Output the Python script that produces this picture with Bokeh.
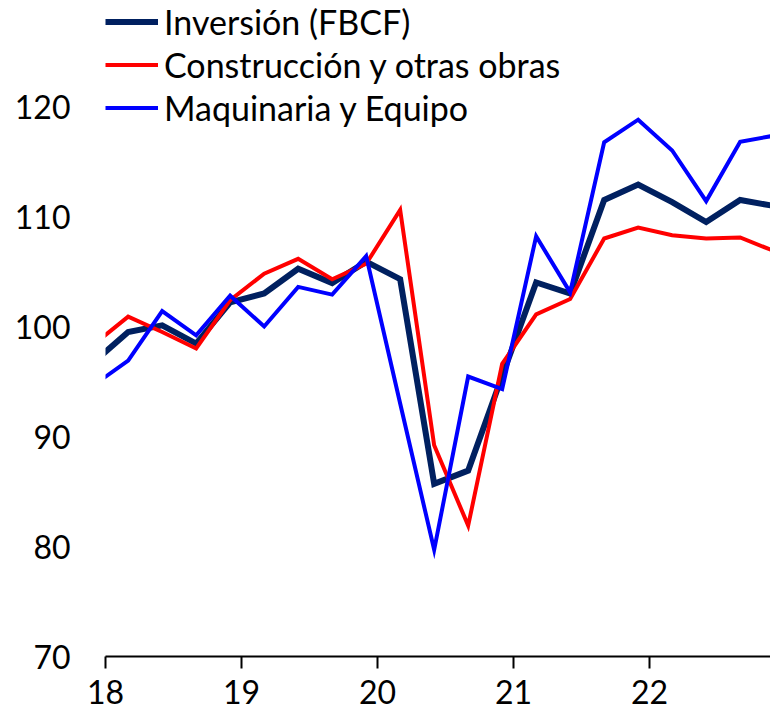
from bokeh.plotting import figure
from bokeh.models import FixedTicker, Range1d, Legend, LegendItem, ColumnDataSource
from bokeh.embed import file_html
from bokeh.resources import INLINE

# Quarterly data, 2017T4 .. 2022T4
years = [2017, 2018, 2018, 2018, 2018, 2019, 2019, 2019, 2019, 2020, 2020, 2020, 2020,
         2021, 2021, 2021, 2021, 2022, 2022, 2022, 2022]
quarters = [4, 1, 2, 3, 4, 1, 2, 3, 4, 1, 2, 3, 4, 1, 2, 3, 4, 1, 2, 3, 4]

inversion = [96.8, 99.5, 100.1, 98.45, 102.2, 103.0, 105.25, 103.95, 105.9, 104.3, 85.7, 86.9,
             95.5, 104.0, 103.0, 111.5, 112.9, 111.3, 109.5, 111.5, 110.95]
construccion = [98.4, 100.9, 99.5, 98.0, 102.4, 104.8, 106.15, 104.3, 105.7, 110.6, 89.2, 81.9,
                96.6, 101.1, 102.5, 108.0, 109.0, 108.3, 108.0, 108.1, 106.85]
maquinaria = [94.7, 96.9, 101.4, 99.2, 102.8, 100.0, 103.6, 102.9, 106.4, 93.0, 79.7, 95.45,
              94.3, 108.2, 103.1, 116.75, 118.8, 116.0, 111.4, 116.8, 117.35]

x_ticks = [18, 19, 20, 21, 22]
x_tick_labels = {18: "18", 19: "19", 20: "20", 21: "21", 22: "22"}
y_ticks = [70, 80, 90, 100, 110, 120]

series_names = ["Inversión (FBCF)", "Construcción y otras obras", "Maquinaria y Equipo"]

# position: year (2-digit) + first day of the last month in the quarter
xs = [(y - 2000) + (3 * q - 1) / 12 for y, q in zip(years, quarters)]
src = ColumnDataSource(dict(x=xs, inv=inversion, con=construccion, maq=maquinaria))

FONT = "Lato"
W, H = 770, 718
LEFT = 105
BOTTOM = 62
FRAME_H = H - BOTTOM
PX_PER_UNIT = 11.0
PX_PER_YEAR = 136.0
ROW = 43

p = figure(width=W, height=H, output_backend="svg", toolbar_location=None,
           x_range=Range1d(18, 18 + (W - LEFT) / PX_PER_YEAR),
           y_range=Range1d(70, 70 + FRAME_H / PX_PER_UNIT),
           min_border_left=LEFT, min_border_right=0, min_border_top=0, min_border_bottom=BOTTOM)
p.outline_line_color = None
p.xgrid.grid_line_color = None
p.ygrid.grid_line_color = None
p.background_fill_color = "white"

r_inv = p.line("x", "inv", source=src, line_color="#002060", line_width=6, line_join="miter")
r_con = p.line("x", "con", source=src, line_color="#FF0000", line_width=4, line_join="miter")
r_maq = p.line("x", "maq", source=src, line_color="#0000FF", line_width=4, line_join="miter")

xa = p.xaxis[0]
xa.ticker = FixedTicker(ticks=x_ticks)
xa.major_label_overrides = x_tick_labels
xa.axis_line_color = "black"
xa.axis_line_width = 2
xa.major_tick_line_color = "black"
xa.major_tick_line_width = 2
xa.major_tick_out = 12
xa.major_tick_in = 0
xa.minor_tick_line_color = None
xa.major_label_standoff = 11
xa.major_label_text_font = FONT
xa.major_label_text_font_size = "32px"
xa.major_label_text_color = "#000000"

ya = p.yaxis[0]
ya.ticker = FixedTicker(ticks=y_ticks)
ya.axis_line_color = None
ya.major_tick_line_color = None
ya.minor_tick_line_color = None
ya.major_tick_out = 0
ya.major_tick_in = 0
ya.major_label_standoff = 35
ya.major_label_text_font = FONT
ya.major_label_text_font_size = "32px"
ya.major_label_text_color = "#000000"

legend = Legend(items=[LegendItem(label=series_names[0], renderers=[r_inv]),
                       LegendItem(label=series_names[1], renderers=[r_con]),
                       LegendItem(label=series_names[2], renderers=[r_maq])],
                location=(0, FRAME_H - 3 * ROW), orientation="vertical",
                glyph_width=53, glyph_height=ROW, label_height=ROW, label_standoff=6,
                spacing=0, padding=0, margin=0,
                label_text_font=FONT, label_text_font_size="34px", label_text_color="#000000",
                border_line_color=None, background_fill_alpha=0)
p.add_layout(legend, "center")

open("out.html", "w").write(file_html(p, INLINE))
